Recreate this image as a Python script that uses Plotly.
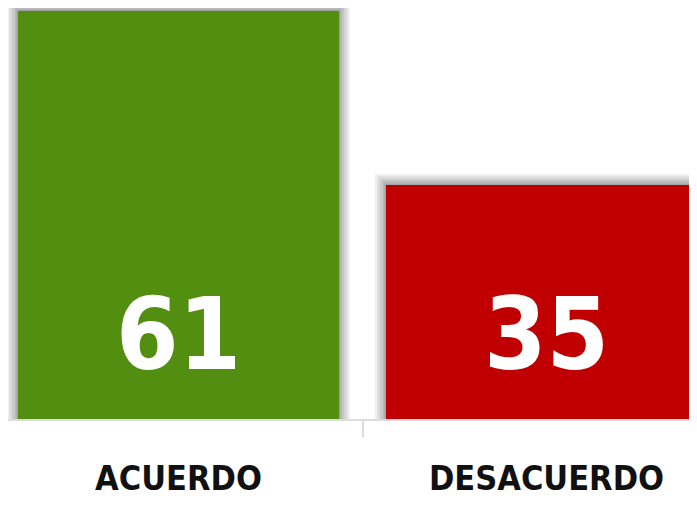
import plotly.graph_objects as go

categories = ["ACUERDO", "DESACUERDO"]
values = [61, 35]
bar_colors = ["#528f10", "#c00000"]

# the page body has an 8px margin; keep the figure inside the viewport
OFF = 8
W, H = 697 - 2 * OFF, 505 - 2 * OFF
base_px = 419 - OFF      # pixel row of the baseline inside the figure
px_per_unit = 6.69       # vertical scale
x_px_per_cat = 368.0     # horizontal spacing between categories
bar_w = 0.872
first_center_px = 178.5 - OFF

y_top = base_px / px_per_unit
x_lo = -first_center_px / x_px_per_cat
x_hi = x_lo + W / x_px_per_cat
y_dom0 = (H - base_px) / H

fig = go.Figure()

# soft shadow layers around bars
for e in [11, 9, 7, 5, 3.5, 2, 1]:
    fig.add_trace(go.Bar(
        x=categories,
        y=[v + e / px_per_unit for v in values],
        width=bar_w + 2 * e / x_px_per_cat,
        marker=dict(color="rgba(0,0,0,0.06)", line=dict(width=0)),
        hoverinfo="skip", showlegend=False,
    ))

fig.add_trace(go.Bar(
    x=categories, y=values, width=bar_w,
    marker=dict(color=bar_colors, line=dict(width=0)),
    showlegend=False,
))

font_fam = "DejaVu Sans Condensed, DejaVu Sans, sans-serif"
for c, v in zip(categories, values):
    fig.add_annotation(
        x=c, y=0, yanchor="bottom", yshift=24,
        text=f"<b>{v}</b>", showarrow=False,
        font=dict(family=font_fam, size=100, color="white"),
    )

fig.update_layout(
    width=W, height=H,
    margin=dict(l=0, r=0, t=0, b=0),
    paper_bgcolor="white", plot_bgcolor="white",
    barmode="overlay", bargap=0,
    xaxis=dict(
        type="category", range=[x_lo, x_hi],
        showline=True, linecolor="#dcdcdc", linewidth=1.5,
        ticks="outside", tickson="boundaries", ticklen=16,
        tickcolor="#dcdcdc", tickwidth=1.5,
        ticklabelstandoff=28,
        tickfont=dict(family=font_fam, size=34, color="#111111", weight="bold"),
        showgrid=False, zeroline=False, fixedrange=True,
    ),
    yaxis=dict(
        domain=[y_dom0, 1], range=[0, y_top],
        visible=False, showgrid=False, zeroline=False,
    ),
    font=dict(family=font_fam),
)

fig.write_html("out.html")
